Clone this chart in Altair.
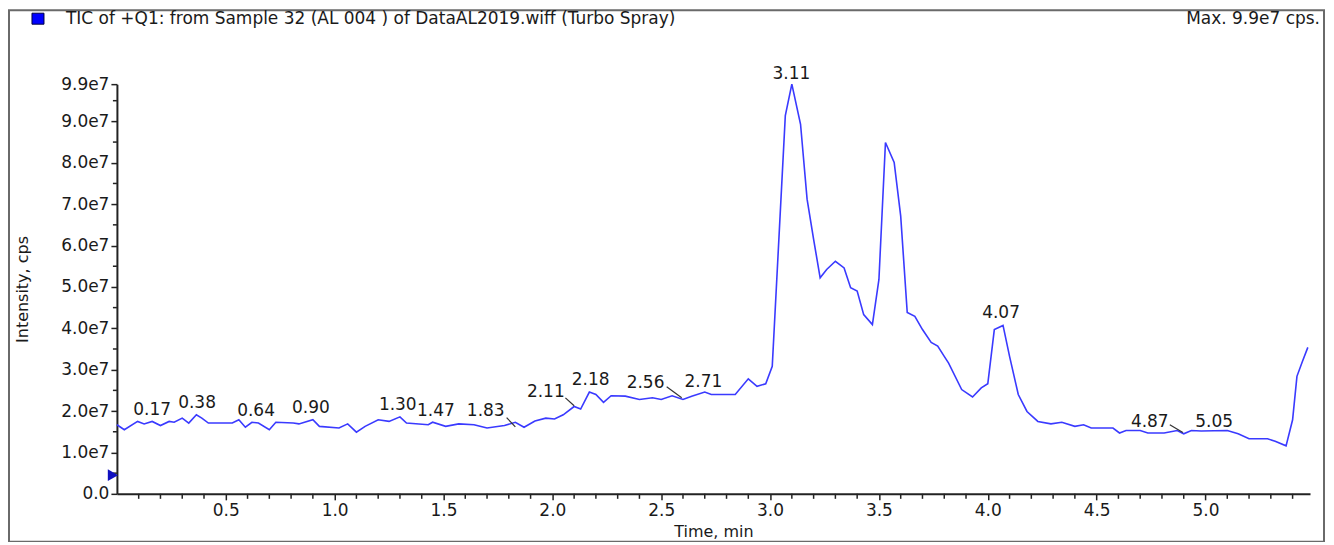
import altair as alt
import pandas as pd

# ---- data (intensity in units of 1e7 cps) ----
time_min = [0.00, 0.034, 0.095, 0.125, 0.162, 0.20, 0.24, 0.263, 0.30, 0.33, 0.365, 0.39, 0.42,
            0.53, 0.56, 0.59, 0.62, 0.65, 0.70, 0.73, 0.81, 0.836, 0.90, 0.93, 1.02, 1.06, 1.10,
            1.14, 1.20, 1.25, 1.30, 1.33, 1.43, 1.45, 1.51, 1.57, 1.64, 1.70, 1.78, 1.83, 1.87,
            1.92, 1.97, 2.01, 2.05, 2.10, 2.13, 2.17, 2.20, 2.235, 2.27, 2.335, 2.40, 2.46, 2.50,
            2.55, 2.60, 2.64, 2.70, 2.73, 2.84, 2.90, 2.94, 2.98, 3.01, 3.07, 3.10, 3.14, 3.17,
            3.20, 3.23, 3.26, 3.30, 3.34, 3.37, 3.40, 3.43, 3.47, 3.50, 3.53, 3.57, 3.60, 3.63,
            3.665, 3.70, 3.74, 3.77, 3.80, 3.82, 3.88, 3.93, 3.97, 4.00, 4.03, 4.07, 4.10, 4.14,
            4.18, 4.23, 4.29, 4.34, 4.40, 4.44, 4.475, 4.575, 4.605, 4.635, 4.70, 4.735, 4.81,
            4.87, 4.90, 4.935, 4.98, 5.10, 5.15, 5.20, 5.285, 5.32, 5.37, 5.40, 5.42, 5.445, 5.47]
intensity_e7 = [1.67, 1.55, 1.75, 1.69, 1.75, 1.65, 1.75, 1.73, 1.83, 1.71, 1.91, 1.83, 1.71,
                1.71, 1.79, 1.61, 1.73, 1.71, 1.55, 1.73, 1.71, 1.69, 1.79, 1.63, 1.59, 1.69, 1.49,
                1.63, 1.79, 1.75, 1.86, 1.71, 1.67, 1.73, 1.63, 1.69, 1.67, 1.59, 1.65, 1.73, 1.61,
                1.76, 1.83, 1.81, 1.91, 2.11, 2.05, 2.46, 2.40, 2.21, 2.37, 2.36, 2.28, 2.32, 2.28,
                2.37, 2.28, 2.36, 2.46, 2.40, 2.40, 2.78, 2.60, 2.66, 3.08, 9.14, 9.90, 8.93, 7.12,
                6.15, 5.22, 5.42, 5.62, 5.46, 4.98, 4.90, 4.33, 4.09, 5.18, 8.49, 8.01, 6.71, 4.38,
                4.29, 3.97, 3.66, 3.57, 3.32, 3.16, 2.52, 2.34, 2.56, 2.66, 3.97, 4.07, 3.32, 2.40,
                1.99, 1.75, 1.69, 1.73, 1.63, 1.67, 1.59, 1.59, 1.47, 1.53, 1.53, 1.47, 1.47,
                1.53, 1.45, 1.53, 1.52, 1.53, 1.45, 1.33, 1.33, 1.27, 1.16, 1.79, 2.84, 3.20, 3.54]

peak_labels = ["0.17", "0.38", "0.64", "0.90", "1.30", "1.47", "1.83", "2.11", "2.18",
               "2.56", "2.71", "3.11", "4.07", "4.87", "5.05"]
label_time = [0.162, 0.368, 0.639, 0.891, 1.29, 1.465, 1.694, 1.97, 2.176,
              2.428, 2.694, 3.098, 4.061, 4.744, 5.04]
label_int_e7 = [2.03, 2.20, 1.99, 2.08, 2.15, 1.99, 1.99, 2.47, 2.74,
                2.69, 2.71, 10.15, 4.38, 1.74, 1.74]

leader_t1 = [1.79, 2.06, 2.525, 4.836]
leader_i1_e7 = [1.84, 2.32, 2.59, 1.67]
leader_t2 = [1.83, 2.10, 2.594, 4.896]
leader_i2_e7 = [1.62, 2.13, 2.32, 1.48]

marker_time = [0.0]
marker_int_e7 = [0.45]

title_text = "TIC of +Q1: from Sample 32 (AL 004 ) of DataAL2019.wiff (Turbo Spray)"
max_text = "Max. 9.9e7 cps."

x_major = [0.5, 1.0, 1.5, 2.0, 2.5, 3.0, 3.5, 4.0, 4.5, 5.0]
x_minor = [round(0.1 * i, 1) for i in range(1, 55) if i % 5 != 0]
y_major_e7 = [0, 1, 2, 3, 4, 5, 6, 7, 8, 9, 9.9]
y_minor_e7 = [0.5, 1.5, 2.5, 3.5, 4.5, 5.5, 6.5, 7.5, 8.5, 9.5]

FONT = "DejaVu Sans"
TXT = "#1a1a1a"
AXC = "#222222"
BLUE = "#3a3aff"

df = pd.DataFrame({"t": time_min, "I": [v * 1e7 for v in intensity_e7]})
lab = pd.DataFrame({"lab": peak_labels, "t": label_time, "I": [v * 1e7 for v in label_int_e7]})
lead = pd.DataFrame({"t": leader_t1, "I": [v * 1e7 for v in leader_i1_e7],
                     "t2": leader_t2, "i2": [v * 1e7 for v in leader_i2_e7]})
mk = pd.DataFrame({"t": marker_time, "I": [v * 1e7 for v in marker_int_e7]})
xmin_df = pd.DataFrame({"t": x_minor})
ymin_df = pd.DataFrame({"I": [v * 1e7 for v in y_minor_e7]})
one = pd.DataFrame({"a": [0]})

xscale = alt.Scale(domain=[0, 5.48], nice=False, zero=False)
yscale = alt.Scale(domain=[0, 9.9e7], nice=False)

xaxis = alt.Axis(
    values=x_major, format=".1f", tickSize=6, labelPadding=3,
    title="Time, min", titleFont=FONT, titleFontSize=16, titleFontWeight="normal",
    titleColor=TXT, titleY=38, titleBaseline="middle",
    labelFlush=False, labelOverlap=False,
)
yaxis = alt.Axis(
    values=[v * 1e7 for v in y_major_e7],
    labelExpr="datum.value == 0 ? '0.0' : replace(format(datum.value, '.1e'), '+', '')",
    tickSize=6, labelPadding=2,
    title="Intensity, cps", titleFont=FONT, titleFontSize=16, titleFontWeight="normal",
    titleColor=TXT, titleX=-86, titleY=205,
    labelFlush=False, labelOverlap=False,
)

X = alt.X("t:Q", scale=xscale, axis=xaxis)
Y = alt.Y("I:Q", scale=yscale, axis=yaxis)

line = alt.Chart(df).mark_line(color=BLUE, strokeWidth=1.6).encode(x=X, y=Y)

x_minor_ticks = alt.Chart(xmin_df).mark_rule(color=AXC, strokeWidth=1.5).encode(
    x=X, y=alt.value(410), y2=alt.value(415))

y_minor_ticks = alt.Chart(ymin_df).mark_rule(color=AXC, strokeWidth=1.5).encode(
    y=Y, x=alt.value(-4), x2=alt.value(0))

labels = alt.Chart(lab).mark_text(font=FONT, fontSize=17, color=TXT, align="center",
                                  baseline="middle").encode(x=X, y=Y, text="lab:N")

leaders = alt.Chart(lead).mark_rule(color="#333333", strokeWidth=1.2).encode(
    x=X, y=Y, x2="t2:Q", y2="i2:Q")

marker = alt.Chart(mk).mark_point(shape="triangle-right", filled=True, color="#1010c0",
                                  size=140, opacity=1).encode(x=alt.value(-4), y=Y)

frame = alt.Chart(one).mark_rect(filled=False, stroke="#6a6a6a", strokeWidth=2).encode(
    x=alt.value(-108), x2=alt.value(1208), y=alt.value(-74), y2=alt.value(458))

legend_box = alt.Chart(one).mark_rect(fill="#0000ff", stroke="#000040", strokeWidth=1).encode(
    x=alt.value(-85), x2=alt.value(-73), y=alt.value(-71), y2=alt.value(-60))

title_mark = alt.Chart(one).mark_text(font=FONT, fontSize=17, color=TXT, align="left",
                                      baseline="middle", text=title_text).encode(
    x=alt.value(-51), y=alt.value(-65))

max_mark = alt.Chart(one).mark_text(font=FONT, fontSize=17, color=TXT, align="right",
                                    baseline="middle", text=max_text).encode(
    x=alt.value(1204), y=alt.value(-65))

chart = alt.layer(line, x_minor_ticks, y_minor_ticks, leaders, labels, marker,
                  frame, legend_box, title_mark, max_mark).properties(
    width=1194, height=410,
    autosize=alt.AutoSizeParams(type="none"),
    padding={"left": 109, "top": 76, "right": 16, "bottom": 48},
).configure_view(strokeWidth=0).configure_axis(
    labelFont=FONT, labelFontSize=17, labelColor=TXT, domainColor=AXC, domainWidth=2,
    tickColor=AXC, tickWidth=1.5, grid=False,
)

chart.save("out.html", embed_options={"renderer": "svg", "actions": False})
